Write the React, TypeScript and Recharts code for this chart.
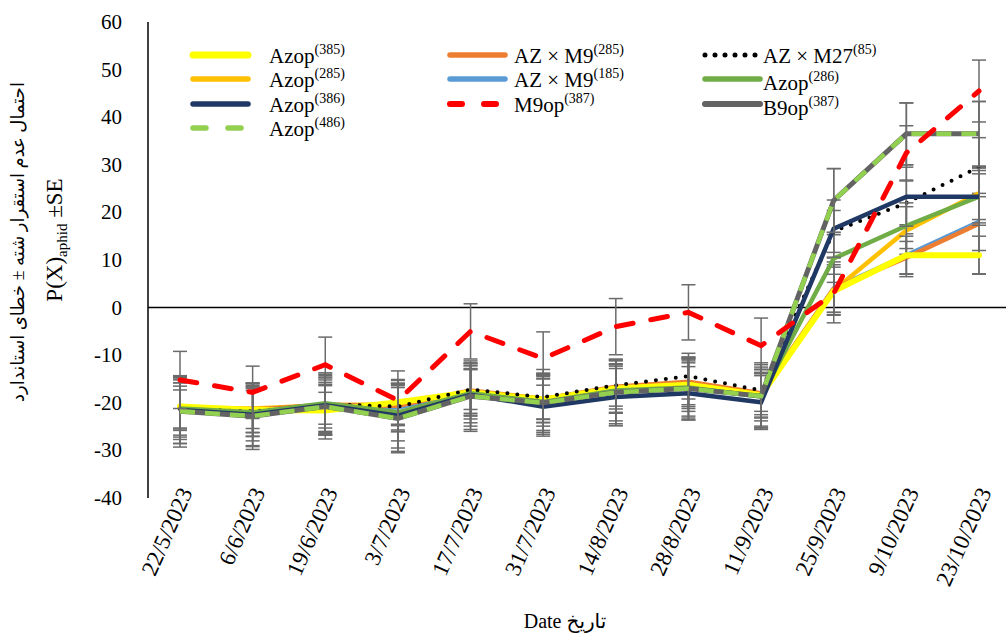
import React from 'react';
import { LineChart, Line, XAxis, YAxis, ReferenceLine, ErrorBar } from 'recharts';

const dates = ['22/5/2023', '6/6/2023', '19/6/2023', '3/7/2023', '17/7/2023', '31/7/2023', '14/8/2023', '28/8/2023', '11/9/2023', '25/9/2023', '9/10/2023', '23/10/2023'];
const yTicks = [-40, -30, -20, -10, 0, 10, 20, 30, 40, 50, 60];

// values
const azop385 = [-20.8, -21.5, -21.6, -19.9, -17.8, -19.3, -17.0, -16.2, -18.4, 3.5, 11, 11];
const azop285 = [-21.0, -21.2, -20.5, -20.3, -17.6, -19.2, -16.8, -16.0, -18.2, 3.6, 16.2, 24];
const azop386 = [-21.5, -22.5, -20.5, -22.7, -18.3, -20.8, -18.8, -18.0, -19.9, 16.6, 23.3, 23.3];
const azop486 = [-21.8, -22.8, -20.8, -23.3, -18.6, -20.0, -17.8, -17.0, -18.6, 22.5, 36.5, 36.5];
const azM9_285 = [-21.2, -21.5, -20.4, -20.6, -17.4, -19.2, -16.6, -15.6, -18.0, 4, 10.5, 17.6];
const azM9_185 = [-21.3, -21.8, -20.6, -21.0, -17.8, -19.5, -17.0, -16.2, -18.4, 4, 11, 18];
const m9op387 = [-15.2, -17.8, -12.0, -19.5, -5.0, -10.7, -4.0, -1.0, -8.0, 3, 32.5, 45.5];
const azM27_85 = [-21.3, -21.8, -20.3, -20.8, -17.2, -18.8, -16.3, -14.4, -17.4, 16, 22, 29.5];
const azop286 = [-21.2, -22.0, -20.1, -22.0, -18.0, -19.8, -17.4, -16.8, -18.7, 10.3, 17.2, 23.3];
const b9op387 = [-21.8, -22.8, -20.8, -23.3, -18.6, -20.0, -17.8, -17.0, -18.6, 22.5, 36.5, 36.5];

// standard errors
const azop385Se = [5.0, 4.8, 5.2, 4.6, 5.0, 4.8, 5.2, 5.0, 4.8, 5.0, 4.0, 4.0];
const azop285Se = [4.5, 4.2, 4.8, 4.4, 4.6, 4.3, 4.5, 4.4, 4.3, 6.8, 5.0, 5.5];
const azop386Se = [7.0, 6.5, 6.2, 6.8, 6.6, 5.8, 6.0, 5.6, 5.6, 6.0, 6.2, 6.0];
const azop486Se = [6.8, 6.4, 6.0, 6.9, 7.0, 6.2, 6.6, 6.2, 6.6, 6.7, 6.5, 6.8];
const azM9_285Se = [6.0, 5.6, 5.8, 5.5, 5.2, 5.0, 5.6, 5.2, 5.0, 5.6, 3.4, 10.5];
const azM9_185Se = [5.5, 5.2, 5.4, 5.0, 5.6, 5.4, 5.0, 5.6, 5.4, 5.0, 4.5, 6.0];
const m9op387Se = [6.0, 5.5, 5.8, 6.2, 5.8, 5.6, 5.9, 5.8, 5.8, 4.0, 5.7, 6.5];
const azM27_85Se = [4.0, 4.4, 4.2, 4.0, 4.2, 4.6, 4.4, 4.8, 4.4, 4.4, 4.6, 6.2];
const azop286Se = [6.5, 6.0, 6.4, 6.0, 6.2, 6.0, 6.4, 6.0, 6.2, 5.0, 4.8, 5.5];
const b9op387Se = [7.5, 7.0, 6.8, 7.2, 7.4, 7.0, 7.0, 6.6, 7.0, 6.7, 6.5, 6.8];

const series = [
  { key: 'azM9_185', label: 'AZ × M9', sup: '(185)', values: azM9_185, se: azM9_185Se, color: '#5B9BD5', width: 4.5, dash: undefined, cap: 'butt' },
  { key: 'azop285', label: 'Azop', sup: '(285)', values: azop285, se: azop285Se, color: '#FFC000', width: 4.5, dash: undefined, cap: 'butt' },
  { key: 'azM9_285', label: 'AZ × M9', sup: '(285)', values: azM9_285, se: azM9_285Se, color: '#ED7D31', width: 4.5, dash: undefined, cap: 'butt' },
  { key: 'azop385', label: 'Azop', sup: '(385)', values: azop385, se: azop385Se, color: '#FFFF00', width: 6, dash: undefined, cap: 'round' },
  { key: 'azM27_85', label: 'AZ × M27', sup: '(85)', values: azM27_85, se: azM27_85Se, color: '#000000', width: 4, dash: '0 10', cap: 'round' },
  { key: 'azop286', label: 'Azop', sup: '(286)', values: azop286, se: azop286Se, color: '#70AD47', width: 4.5, dash: undefined, cap: 'butt' },
  { key: 'azop386', label: 'Azop', sup: '(386)', values: azop386, se: azop386Se, color: '#203864', width: 4.5, dash: undefined, cap: 'butt' },
  { key: 'b9op387', label: 'B9op', sup: '(387)', values: b9op387, se: b9op387Se, color: '#636363', width: 5, dash: undefined, cap: 'butt' },
  { key: 'azop486', label: 'Azop', sup: '(486)', values: azop486, se: azop486Se, color: '#92D050', width: 4.5, dash: '15 10', cap: 'butt' },
  { key: 'm9op387', label: 'M9op', sup: '(387)', values: m9op387, se: m9op387Se, color: '#FF0000', width: 5, dash: '17 18', cap: 'round' },
];

const data = dates.map((d, i) => {
  const row: any = { date: d };
  series.forEach((s) => {
    row[s.key] = s.values[i];
    row[s.key + 'Err'] = s.se[i];
  });
  return row;
});

// legend layout: columns / rows as in the original figure
const legendLayout = [
  { key: 'azop385', col: 0, row: 0 },
  { key: 'azop285', col: 0, row: 1 },
  { key: 'azop386', col: 0, row: 2 },
  { key: 'azop486', col: 0, row: 3 },
  { key: 'azM9_285', col: 1, row: 0 },
  { key: 'azM9_185', col: 1, row: 1 },
  { key: 'm9op387', col: 1, row: 2 },
  { key: 'azM27_85', col: 2, row: 0 },
  { key: 'azop286', col: 2, row: 1 },
  { key: 'b9op387', col: 2, row: 2 },
];
const colX = [190, 447, 702];
const colTextX = [269, 514, 763];
const rowY = [55, 79, 104, 128];

const FONT = "'Liberation Serif', 'Times New Roman', 'DejaVu Sans', serif";

const DateTick = ({ x, y, payload }: any) => (
  <text
    transform={`translate(${x + 13},${y - 14}) rotate(-66)`}
    textAnchor="end"
    fontSize={23}
    fontFamily={FONT}
    fill="#000"
  >
    {payload.value}
  </text>
);

const ValueTick = ({ x, y, payload }: any) => (
  <text x={x} y={y + 7} textAnchor="end" fontSize={21} fontFamily={FONT} fill="#000">
    {payload.value}
  </text>
);

function Legend() {
  return (
    <g>
      {legendLayout.map((l) => {
        const s = series.find((x) => x.key === l.key)!;
        const x0 = colX[l.col];
        const y = rowY[l.row];
        const isGreenDash = s.key === 'azop486';
        const textDy = l.col === 2 && l.row > 0 ? 11 : 8;
        return (
          <g key={l.key}>
            <line
              x1={x0 + 3}
              x2={x0 + 58}
              y1={y}
              y2={y}
              stroke={s.color}
              strokeWidth={s.width + 1}
              strokeDasharray={isGreenDash ? '13 22' : s.key === 'm9op387' ? '12 22' : s.dash}
              strokeLinecap="round"
            />
            <text x={colTextX[l.col]} y={y + textDy} fontSize={21} fontFamily={FONT} fill="#000">
              {s.label}
              <tspan fontSize={14} dy={-9}>{s.sup}</tspan>
            </text>
          </g>
        );
      })}
    </g>
  );
}

export default function App() {
  return (
    <div style={{ position: 'absolute', left: 0, top: 0, width: 1006, height: 640, background: '#fff' }}>
      <LineChart width={1006} height={640} data={data} margin={{ top: 22, right: 0, left: 0, bottom: 112 }}>
        <XAxis
          dataKey="date"
          scale="point"
          padding={{ left: 32, right: 27 }}
          axisLine={false}
          tickLine={false}
          interval={0}
          height={30}
          tick={<DateTick />}
        />
        <YAxis
          width={148}
          domain={[-40, 60]}
          ticks={yTicks}
          axisLine={{ stroke: '#000', strokeWidth: 1.5 }}
          tickLine={false}
          tickMargin={20}
          tick={<ValueTick />}
        />
        <ReferenceLine y={0} stroke="#000" strokeWidth={1.5} />
        {series.map((s) => (
          <Line
            key={s.key}
            type="linear"
            dataKey={s.key}
            stroke={s.color}
            strokeWidth={s.width}
            strokeDasharray={s.dash}
            strokeLinecap={s.cap as any}
            dot={false}
            activeDot={false}
            isAnimationActive={false}
          >
            <ErrorBar dataKey={s.key + 'Err'} width={7} stroke="#6b6b6b" strokeWidth={1.5} direction="y" isAnimationActive={false} />
          </Line>
        ))}
      </LineChart>
      <svg width={1006} height={640} style={{ position: 'absolute', left: 0, top: 0, pointerEvents: 'none' }}>
        <Legend />
        <text transform="translate(24,242) rotate(-90)" textAnchor="middle" fontSize={18} fontFamily={FONT} fill="#000">
          احتمال عدم استقرار شته ± خطای استاندارد
        </text>
        <text transform="translate(62,240) rotate(-90)" textAnchor="middle" fontSize={23} fontFamily={FONT} fill="#000">
          P(X)
          <tspan fontSize={15} dy={5}>aphid</tspan>
          <tspan dy={-5}> ±SE</tspan>
        </text>
        <text x={565} y={628} textAnchor="middle" fontSize={20} fontFamily={FONT} fill="#000">
          Date تاریخ
        </text>
      </svg>
    </div>
  );
}
